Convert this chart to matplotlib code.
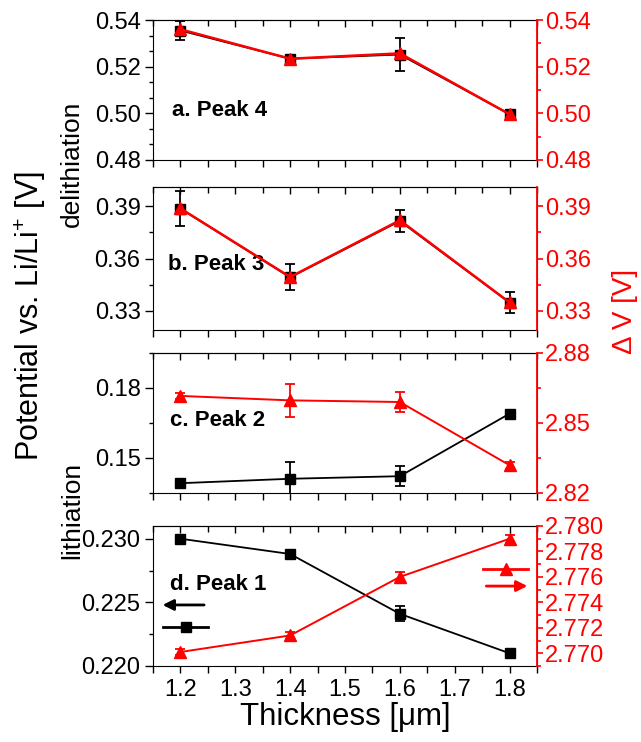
import matplotlib
matplotlib.use("Agg")
import matplotlib.pyplot as plt
from matplotlib.ticker import MultipleLocator, AutoMinorLocator, FormatStrFormatter
from matplotlib.lines import Line2D

plt.rcParams['font.family'] = ['Liberation Sans', 'DejaVu Sans']
plt.rcParams['mathtext.fontset'] = 'custom'
plt.rcParams['mathtext.rm'] = 'Liberation Sans'
plt.rcParams['mathtext.it'] = 'Liberation Sans:italic'

thickness = [1.2, 1.4, 1.6, 1.8]

# Panel a (Peak 4)
a_black = [0.5355, 0.5234, 0.5252, 0.4996]
a_black_err = [0.0041, 0.0010, 0.0070, 0.0010]
a_red = [0.5360, 0.5234, 0.5257, 0.4996]

# Panel b (Peak 3)
b_black = [0.3886, 0.3492, 0.3815, 0.3347]
b_black_err = [0.0100, 0.0074, 0.0065, 0.0060]
b_red = [0.3887, 0.3494, 0.3819, 0.3348]

# Panel c (Peak 2)
c_black = [0.1392, 0.1411, 0.1422, 0.1690]
c_black_err = [0.0010, 0.0070, 0.0042, 0.0015]
c_red = [2.8616, 2.8597, 2.8590, 2.8319]
c_red_err = [0.0012, 0.0070, 0.0044, 0.0015]

# Panel d (Peak 1)
d_black = [0.2300, 0.2288, 0.2241, 0.2210]
d_black_err = [0.0001, 0.0001, 0.0006, 0.0001]
d_red = [2.7701, 2.7714, 2.7760, 2.7790]
d_red_err = [0.0002, 0.0003, 0.0004, 0.0003]

panel_titles = ["a. Peak 4", "b. Peak 3", "c. Peak 2", "d. Peak 1"]

W, H = 641, 742
fig = plt.figure(figsize=(W / 100, H / 100), dpi=100)

# (top_px, bottom_px)
boxes = [(20, 160), (187, 330), (353, 493), (526, 666)]
left_px, right_px = 153, 537

RED = '#ff0000'
FS_TICK = 17

panels = [
    dict(bk=a_black, bke=a_black_err, rd=a_red, rde=None,
         ylim=(0.48, 0.54), ymaj=0.02, yminn=3, y2lim=(0.48, 0.54), y2maj=0.02, y2minn=2,
         fmt='%.2f', fmt2='%.2f', txt=(0.049, 0.357)),
    dict(bk=b_black, bke=b_black_err, rd=b_red, rde=None,
         ylim=(0.319, 0.401), ymaj=0.03, yminn=2, y2lim=(0.319, 0.401), y2maj=0.03, y2minn=2,
         fmt='%.2f', fmt2='%.2f', txt=(0.039, 0.455)),
    dict(bk=c_black, bke=c_black_err, rd=c_red, rde=c_red_err,
         ylim=(0.135, 0.195), ymaj=0.03, yminn=2, y2lim=(2.82, 2.88), y2maj=0.03, y2minn=2,
         fmt='%.2f', fmt2='%.2f', txt=(0.044, 0.521)),
    dict(bk=d_black, bke=d_black_err, rd=d_red, rde=d_red_err,
         ylim=(0.220, 0.231), ymaj=0.005, yminn=2, y2lim=(2.769, 2.780), y2maj=0.002, y2minn=2,
         fmt='%.3f', fmt2='%.3f', txt=(0.044, 0.579)),
]

for i, (p, (tp, bp)) in enumerate(zip(panels, boxes)):
    ax = fig.add_axes([left_px / W, 1 - bp / H, (right_px - left_px) / W, (bp - tp) / H])
    ax2 = ax.twinx()

    # black squares
    ax.errorbar(thickness, p['bk'], yerr=p['bke'], color='black', marker='s', ms=7.5,
                lw=1.3, capsize=3.5, elinewidth=1.3, capthick=1.3, zorder=3)
    # red triangles
    if p['rde'] is None:
        ax2.plot(thickness, p['rd'], color=RED, marker='^', ms=9, lw=1.8, zorder=3)
    else:
        ax2.errorbar(thickness, p['rd'], yerr=p['rde'], color=RED, marker='^', ms=9,
                     lw=1.4, capsize=3.5, elinewidth=1.3, capthick=1.3, zorder=3)

    ax.set_xlim(1.15, 1.85)
    ax.set_ylim(*p['ylim'])
    ax2.set_ylim(*p['y2lim'])

    ax.xaxis.set_major_locator(MultipleLocator(0.1))
    ax.xaxis.set_minor_locator(MultipleLocator(0.05))
    ax.yaxis.set_major_locator(MultipleLocator(p['ymaj']))
    ax.yaxis.set_minor_locator(AutoMinorLocator(p['yminn']))
    ax2.yaxis.set_major_locator(MultipleLocator(p['y2maj']))
    ax2.yaxis.set_minor_locator(AutoMinorLocator(p['y2minn']))
    ax.yaxis.set_major_formatter(FormatStrFormatter(p['fmt']))
    ax2.yaxis.set_major_formatter(FormatStrFormatter(p['fmt2']))

    ax.tick_params(axis='y', which='major', direction='out', length=6, width=1,
                   labelsize=FS_TICK, pad=3)
    ax.tick_params(axis='y', which='minor', direction='out', length=3, width=1)
    ax.tick_params(axis='x', which='major', direction='out', length=5, width=1,
                   labelsize=FS_TICK, pad=4, labelbottom=(i == 3))
    ax.tick_params(axis='x', which='minor', direction='out', length=5, width=1)

    ax2.tick_params(axis='y', which='major', direction='out', length=4, width=1.2,
                    colors=RED, labelsize=FS_TICK, pad=2)
    ax2.tick_params(axis='y', which='minor', direction='out', length=3, width=1.2, colors=RED)
    ax2.spines['right'].set_color(RED)
    ax2.spines['right'].set_linewidth(1.3)
    for s in ['left', 'top', 'bottom']:
        ax2.spines[s].set_visible(False)

    sec = ax.secondary_xaxis('top')
    sec.xaxis.set_major_locator(MultipleLocator(0.1))
    sec.xaxis.set_minor_locator(MultipleLocator(0.05))
    sec.tick_params(axis='x', which='major', direction='in', length=5, width=1, labeltop=False)
    sec.tick_params(axis='x', which='minor', direction='in', length=4, width=1)

    ax.text(p['txt'][0], p['txt'][1], panel_titles[i], transform=ax.transAxes,
            fontsize=16, fontweight='bold', ha='left', va='center', zorder=5)

    if i == 3:
        ax.set_xlabel('Thickness [\u03bcm]', fontsize=22.5, labelpad=1)
        # axis indicators
        ax.annotate('', xy=(0.025, 0.436), xytext=(0.133, 0.436), xycoords='axes fraction',
                    arrowprops=dict(arrowstyle='-|>', color='black', lw=2, mutation_scale=16,
                                    shrinkA=0, shrinkB=0))
        ax.add_line(Line2D([0.026, 0.143], [0.279, 0.279], transform=ax.transAxes,
                           color='black', lw=2))
        ax.add_line(Line2D([0.086], [0.279], transform=ax.transAxes, color='black',
                           marker='s', ms=7.5, lw=0))
        ax2.add_line(Line2D([0.859, 0.977], [0.693, 0.693], transform=ax2.transAxes,
                            color=RED, lw=2))
        ax2.add_line(Line2D([0.919], [0.693], transform=ax2.transAxes, color=RED,
                            marker='^', ms=9, lw=0))
        ax2.annotate('', xy=(0.975, 0.571), xytext=(0.868, 0.571), xycoords='axes fraction',
                     arrowprops=dict(arrowstyle='-|>', color=RED, lw=2, mutation_scale=16,
                                     shrinkA=0, shrinkB=0))

# Shared labels
fig.text(30 / W, 1 - 316 / H, 'Potential vs. Li/Li$^{+}$ [V]', rotation=90,
         ha='center', va='center', fontsize=22)
fig.text(72 / W, 1 - 164 / H, 'delithiation', rotation=90, ha='center', va='center',
         fontsize=19)
fig.text(72 / W, 1 - 510 / H, 'lithiation', rotation=90, ha='center', va='center',
         fontsize=19)
fig.text(625 / W, 1 - 311 / H, '\u0394 V [V]', rotation=90, ha='center',
         va='center', fontsize=20, color=RED)

fig.savefig('out.png', dpi=100)
